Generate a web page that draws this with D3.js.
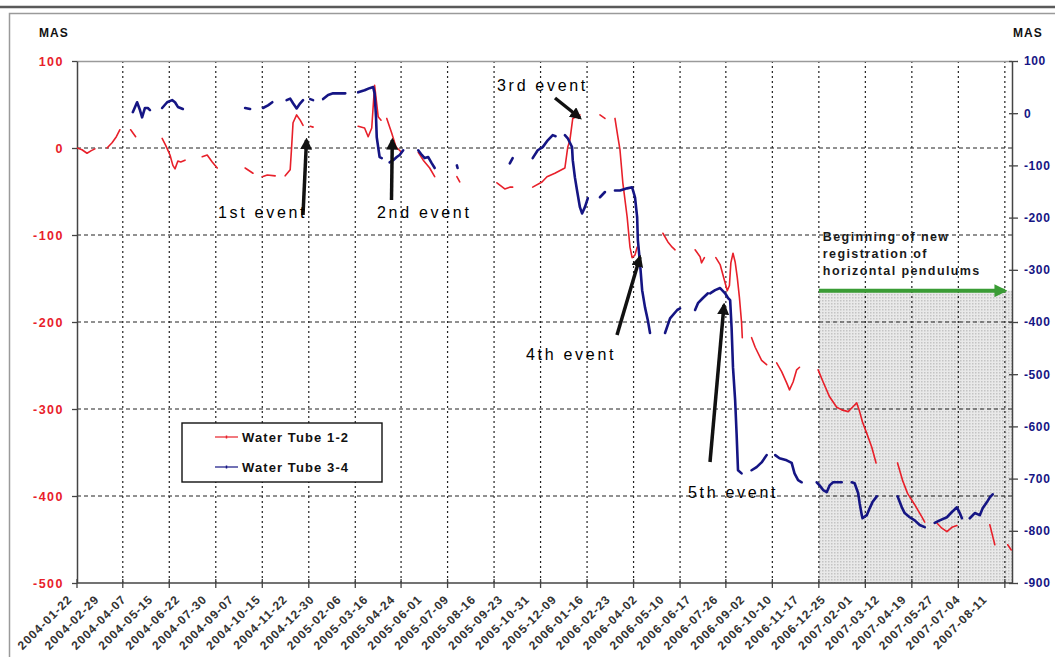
<!DOCTYPE html>
<html><head><meta charset="utf-8">
<script src="https://cdn.jsdelivr.net/npm/d3@7"></script>
<style>
html,body{margin:0;padding:0;background:#fff;}
svg{display:block;font-family:"Liberation Sans",Arial,sans-serif;}
</style></head>
<body>
<script>
// ---------- DATA ----------
const startDate = "2004-01-22";            // day 0 of the series
const endDay = 1307;                        // right edge of plot (days since start)
const dateLabels = ["2004-01-22","2004-02-29","2004-04-07","2004-05-15","2004-06-22","2004-07-30","2004-09-07","2004-10-15","2004-11-22","2004-12-30","2005-02-06","2005-03-16","2005-04-24","2005-06-01","2005-07-09","2005-08-16","2005-09-23","2005-10-31","2005-12-09","2006-01-16","2006-02-23","2006-04-02","2006-05-10","2006-06-17","2006-07-26","2006-09-02","2006-10-10","2006-11-17","2006-12-25","2007-02-01","2007-03-12","2007-04-19","2007-05-27","2007-07-04","2007-08-11"];
const leftTicks = [100,0,-100,-200,-300,-400,-500];
const rightTicks = [100,0,-100,-200,-300,-400,-500,-600,-700,-800,-900];
const gridCount = 20;       // vertical grid intervals between first and last label
const gridEndDay = 1297;    // last vertical grid line (days since start)
const shadeFromGrid = 16;   // shaded period starts at this grid line

// Water Tube 1-2 (left axis), segments of [day, MAS]
const tube12 = [
 [[0,0],[7,-2],[14,-6],[20,-3],[25,-1]],
 [[42,0],[49,6],[55,13],[60,21]],
 [[75,21],[82,13]],
 [[119,11],[124,3],[130,-8],[134,-20],[137,-24],[141,-15],[145,-16],[151,-14]],
 [[175,-10],[182,-8],[189,-16],[196,-23]],
 [[235,-23],[246,-29]],
 [[259,-33],[266,-31],[277,-32]],
 [[291,-32],[298,-25],[300,1],[302,29],[307,38],[312,32],[316,26]],
 [[326,25],[330,24]],
 [[393,25],[402,23],[407,13],[412,23],[416,72],[421,36],[425,32]],
 [[433,34],[440,17],[446,1],[450,-2],[454,-5]],
 [[477,-5],[484,-14],[493,-23],[500,-33]],
 [[531,-33],[535,-39]],
 [[587,-40],[598,-47],[605,-45],[609,-45]],
 [[637,-45],[650,-39],[657,-33],[668,-29],[682,-23],[686,1],[689,9],[693,34],[700,37],[703,38]],
 [[731,38],[738,34]],
 [[752,34],[756,13],[759,-2],[763,-40],[769,-79],[773,-114],[776,-126],[780,-123],[783,-114]],
 [[819,-98],[826,-108],[832,-114],[836,-117]],
 [[864,-117],[871,-125],[873,-132],[877,-126]],
 [[893,-126],[899,-134],[905,-152],[909,-164],[912,-158],[914,-132],[917,-121],[920,-131],[923,-149],[926,-172],[929,-201],[930,-218]],
 [[943,-218],[948,-229],[957,-244],[964,-249]],
 [[978,-247],[985,-257],[992,-270],[996,-278],[1001,-269],[1006,-255],[1010,-252]],
 [[1036,-255],[1043,-269],[1052,-286],[1062,-298],[1069,-301],[1078,-303],[1084,-298],[1090,-293],[1094,-303],[1098,-315],[1104,-328],[1111,-344],[1117,-362]],
 [[1147,-362],[1154,-382],[1161,-397],[1171,-410],[1181,-424],[1185,-430]],
 [[1202,-431],[1209,-437],[1216,-441],[1223,-436],[1230,-434]],
 [[1276,-433],[1279,-443],[1283,-456]],
 [[1301,-456],[1306,-462]]
];

// Water Tube 3-4 (right axis), segments of [day, MAS]
const tube34 = [
 [[78,2],[84,21],[88,6],[91,-8],[95,10],[99,10],[102,6]],
 [[119,10],[126,21],[133,25],[137,21],[141,12],[148,8]],
 [[235,10],[242,8]],
 [[260,10],[267,15],[273,21]],
 [[293,25],[298,28],[302,19],[307,9],[312,19],[316,25]],
 [[326,27],[330,25]],
 [[344,27],[351,35],[358,38],[365,38],[375,38]],
 [[393,40],[402,44],[409,48],[414,50],[416,38],[418,-8],[419,-46],[423,-84],[426,-86]],
 [[437,-94],[442,-90],[447,-84],[451,-80],[456,-71]],
 [[477,-71],[482,-80],[486,-86],[491,-84],[496,-96],[500,-105]],
 [[531,-100],[532,-105]],
 [[605,-96],[609,-86]],
 [[637,-86],[644,-71],[651,-65],[658,-52],[665,-42],[669,-44]],
 [[682,-42],[686,-48],[692,-65],[693,-90],[696,-123],[699,-148],[703,-180],[706,-192],[710,-180],[714,-163]],
 [[731,-161],[738,-151]],
 [[752,-148],[759,-148],[769,-144],[776,-142],[780,-161],[783,-199],[784,-243],[787,-287],[790,-339],[794,-372],[798,-397],[801,-421]],
 [[822,-421],[829,-393],[839,-377],[843,-374]],
 [[864,-377],[868,-364],[875,-354],[882,-345]],
 [[885,-345],[892,-339],[899,-335],[906,-345],[910,-354],[913,-358],[915,-410],[917,-487],[920,-550],[922,-613],[924,-684],[929,-690]],
 [[943,-684],[950,-678],[957,-669],[964,-655]],
 [[976,-655],[982,-661],[992,-665],[999,-670],[1003,-690],[1008,-703],[1013,-707]],
 [[1034,-707],[1038,-713],[1043,-722],[1048,-726],[1052,-713],[1057,-707],[1064,-707],[1069,-707]],
 [[1083,-707],[1087,-709],[1092,-728],[1094,-747],[1097,-770],[1098,-776],[1104,-770],[1108,-757],[1112,-745],[1118,-734]],
 [[1147,-734],[1153,-755],[1157,-766],[1164,-774],[1171,-780],[1178,-789],[1185,-793]],
 [[1199,-785],[1206,-780],[1216,-774],[1223,-764],[1230,-755],[1234,-766],[1237,-776]],
 [[1248,-776],[1255,-766],[1262,-770],[1266,-757],[1272,-745],[1276,-736],[1280,-730]]
];

const seriesNames = ["Water Tube 1-2","Water Tube 3-4"];
const events = [
 {label:"1st event", tx:218, ty:218, from:[303,215], to:[306.5,140]},
 {label:"2nd event", tx:377, ty:218, from:[391.5,200], to:[392.3,140]},
 {label:"3rd event", tx:497, ty:91,  from:[555,98],  to:[580,118]},
 {label:"4th event", tx:526, ty:360, from:[617,335], to:[640,257]},
 {label:"5th event", tx:688, ty:498, from:[710,462], to:[724,305]}
];
const noteLines = ["Beginning of new","registration of","horizontal pendulums"];

// ---------- LAYOUT ----------
const W=1055,H=657;
const L=77,R=1012,T=61,B=583;
const RED="#e8202a", BLUE="#151584";
const parse=d3.timeParse("%Y-%m-%d");
const d0=parse(startDate);
const dayToDate=d=>d3.timeDay.offset(d0,d);

const x=d3.scaleTime().domain([d0,dayToDate(endDay)]).range([L,R]);
// category labels of the axis (evenly spaced, as in the original category axis)
const xLab=d3.scalePoint().domain(dateLabels).range([73,988]);
const yL=d3.scaleLinear().domain([-500,100]).range([B,T]);
const yR=d3.scaleLinear().domain([-900,100]).range([B,T]);

const svg=d3.select("body").append("svg").attr("width",W).attr("height",H);

const defs=svg.append("defs");
const pat=defs.append("pattern").attr("id","dots").attr("width",3).attr("height",3).attr("patternUnits","userSpaceOnUse");
pat.append("rect").attr("width",3).attr("height",3).attr("fill","#e9e9e9");
pat.append("rect").attr("width",1.5).attr("height",1.5).attr("fill","#c4c4c4");
function marker(id,color,size){
  defs.append("marker").attr("id",id).attr("viewBox","0 0 10 10").attr("refX",8).attr("refY",5)
   .attr("markerWidth",size).attr("markerHeight",size).attr("orient","auto").attr("markerUnits","userSpaceOnUse")
   .append("path").attr("d","M0,0 L10,5 L0,10 z").attr("fill",color);
}
marker("ahBlack","#111",12);
marker("ahGreen","#3a9c35",13);

// outer frame
svg.append("line").attr("x1",0).attr("x2",W).attr("y1",7).attr("y2",7).attr("stroke","#5a5a5a").attr("stroke-width",2.5);
svg.append("path").attr("d",`M9.5,${H} V13.5 H${W}`).attr("fill","none").attr("stroke","#9a9a9a").attr("stroke-width",1.5);

// grid positions
const gridDates=d3.range(gridCount+1).map(i=>dayToDate(gridEndDay*i/gridCount));
const shadeX=x(gridDates[shadeFromGrid]);

// shaded region
svg.append("rect").attr("x",shadeX).attr("y",yR(-340)).attr("width",R-shadeX).attr("height",B-yR(-340)).attr("fill","url(#dots)");

// horizontal grid (dashed)
svg.append("g").selectAll("line").data(leftTicks.filter(v=>v<100&&v>-500)).join("line")
 .attr("x1",L).attr("x2",R).attr("y1",d=>yL(d)).attr("y2",d=>yL(d))
 .attr("stroke","#222").attr("stroke-width",1).attr("stroke-dasharray","4,3");
// vertical grid (dotted)
svg.append("g").selectAll("line").data(gridDates.slice(1)).join("line")
 .attr("x1",d=>x(d)).attr("x2",d=>x(d)).attr("y1",T).attr("y2",B)
 .attr("stroke","#222").attr("stroke-width",1.2).attr("stroke-dasharray","2,3");

// plot border top
svg.append("line").attr("x1",L).attr("x2",R).attr("y1",T+0.5).attr("y2",T+0.5).attr("stroke","#9a9a9a").attr("stroke-width",1.5);

// axes
const fmt=d=>String(d);
const gL=svg.append("g").attr("transform",`translate(${L},0)`).call(d3.axisLeft(yL).tickValues(leftTicks).tickFormat(fmt).tickSize(5).tickPadding(8).tickSizeOuter(0));
gL.select(".domain").attr("stroke","#444").attr("stroke-width",1.5);
gL.selectAll(".tick line").attr("stroke","#444").attr("stroke-width",1.3);
gL.selectAll(".tick text").attr("fill",RED).attr("font-weight","bold").attr("font-size",12.5).attr("letter-spacing",1.5).attr("font-family","Liberation Sans, Arial, sans-serif");

const gR=svg.append("g").attr("transform",`translate(${R},0)`).call(d3.axisRight(yR).tickValues(rightTicks).tickFormat(fmt).tickSize(6).tickPadding(6).tickSizeOuter(0));
gR.select(".domain").attr("stroke","#444").attr("stroke-width",1.5);
gR.selectAll(".tick line").attr("stroke","#444").attr("stroke-width",1.3).attr("x1",-3);
gR.selectAll(".tick text").attr("fill",BLUE).attr("font-weight","bold").attr("font-size",12).attr("letter-spacing",0.6).attr("font-family","Liberation Sans, Arial, sans-serif");

// bottom axis
const gB=svg.append("g").attr("transform",`translate(0,${B})`);
gB.append("line").attr("x1",L).attr("x2",R).attr("stroke","#444").attr("stroke-width",1.5);
gB.selectAll("line.t").data(gridDates).join("line").attr("class","t")
 .attr("x1",d=>x(d)).attr("x2",d=>x(d)).attr("y1",-4).attr("y2",5).attr("stroke","#444").attr("stroke-width",1.3);
gB.selectAll("text").data(dateLabels).join("text")
 .attr("transform",d=>`translate(${xLab(d)},${17}) rotate(-45)`)
 .attr("text-anchor","end").attr("font-size",12).attr("font-weight","bold").attr("letter-spacing",1)
 .attr("fill","#333").text(d=>d);

// MAS titles
svg.append("text").attr("x",39).attr("y",37).attr("font-size",12).attr("font-weight","bold").attr("letter-spacing",1).attr("fill","#111").text("MAS");
svg.append("text").attr("x",1013).attr("y",37).attr("font-size",12).attr("font-weight","bold").attr("letter-spacing",1).attr("fill","#111").text("MAS");

// series
const lineL=d3.line().x(d=>x(dayToDate(d[0]))).y(d=>yL(d[1]));
const lineR=d3.line().x(d=>x(dayToDate(d[0]))).y(d=>yR(d[1]));
defs.append("clipPath").attr("id","plotclip").append("rect").attr("x",L).attr("y",T-10).attr("width",R-L+2).attr("height",B-T+10);
const gS=svg.append("g").attr("clip-path","url(#plotclip)");
gS.selectAll("path.red").data(tube12).join("path").attr("class","red").attr("d",lineL)
 .attr("fill","none").attr("stroke",RED).attr("stroke-width",1.6).attr("stroke-linejoin","round").attr("stroke-linecap","round");
gS.selectAll("path.blue").data(tube34).join("path").attr("class","blue").attr("d",lineR)
 .attr("fill","none").attr("stroke",BLUE).attr("stroke-width",2.6).attr("stroke-linejoin","round").attr("stroke-linecap","round");

// green arrow + note
const gy=yR(-340);
svg.append("line").attr("x1",shadeX).attr("x2",x(gridDates[gridCount])).attr("y1",gy).attr("y2",gy)
 .attr("stroke","#3a9c35").attr("stroke-width",4).attr("marker-end","url(#ahGreen)");
svg.append("g").selectAll("text").data(noteLines).join("text")
 .attr("x",shadeX+4).attr("y",(d,i)=>241+i*17).attr("font-size",12.5).attr("font-weight","bold").attr("letter-spacing",1.4).attr("fill","#1a1a1a").text(d=>d);

// events
const gE=svg.append("g");
gE.selectAll("line").data(events).join("line")
 .attr("x1",d=>d.from[0]).attr("y1",d=>d.from[1]).attr("x2",d=>d.to[0]).attr("y2",d=>d.to[1])
 .attr("stroke","#111").attr("stroke-width",3.5).attr("marker-end","url(#ahBlack)");
gE.selectAll("text").data(events).join("text")
 .attr("x",d=>d.tx).attr("y",d=>d.ty).attr("font-size",16).attr("letter-spacing",2.7).attr("fill","#000").text(d=>d.label);

// legend
const lg=svg.append("g");
lg.append("rect").attr("x",182).attr("y",423).attr("width",200).attr("height",59).attr("fill","#fff").attr("stroke","#111").attr("stroke-width",1.4);
const lc=[RED,BLUE];
seriesNames.forEach((n,i)=>{
  const yy=437+i*30;
  lg.append("line").attr("x1",215).attr("x2",238).attr("y1",yy).attr("y2",yy).attr("stroke",lc[i]).attr("stroke-width",1.5).attr("opacity",0.8);
  lg.append("line").attr("x1",226.5).attr("x2",226.5).attr("y1",yy-1.5).attr("y2",yy+1.5).attr("stroke",lc[i]).attr("stroke-width",1.5);
  lg.append("text").attr("x",242).attr("y",yy+5).attr("font-size",13).attr("font-weight","bold").attr("letter-spacing",1.1).attr("fill","#111").text(n);
});
</script>
</body></html>
